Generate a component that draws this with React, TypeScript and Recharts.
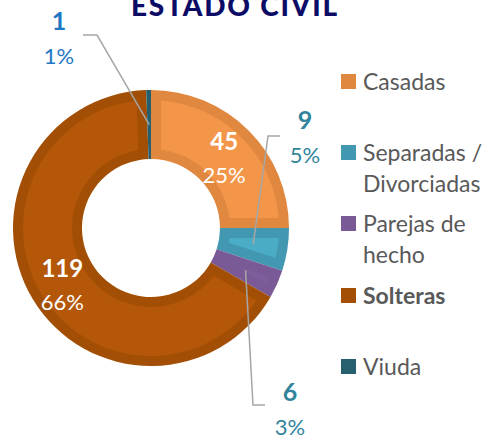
import React from 'react';
import { PieChart, Pie, Cell } from 'recharts';

// Datos del gráfico
const categorias = ['Casadas', 'Separadas / Divorciadas', 'Parejas de hecho', 'Solteras', 'Viuda'];
const valores = [45, 9, 6, 119, 1];

// Colores: borde (bisel) y cara de cada sector
const coloresBorde = ['#E0883F', '#4298B1', '#795A96', '#A24F05', '#26606F'];
const coloresCara = ['#F39649', '#4AACC5', '#7F5E9D', '#B45709', '#2A6877'];
const coloresEtiqueta = ['#FFFFFF', '#31849B', '#31849B', '#FFFFFF', '#1F77C4'];

// Posición de las etiquetas externas respecto al centro (dx, dy del texto, codo y fin de la línea guía)
const callouts: Record<number, { tx: number; ty: number; ex: number; ey: number; fx: number }> = {
  1: { tx: 154, ty: -109, ex: 117, ey: -92, fx: 129 },
  2: { tx: 139, ty: 163, ex: 102, ey: 177, fx: 114 },
  4: { tx: -92, ty: -208, ex: -54, ey: -193, fx: -68 },
};

const FONT = 'Lato, "Open Sans", sans-serif';
const BISEL = 10;

const data = categorias.map((name, i) => ({ name, value: valores[i] }));

const pt = (cx: number, cy: number, r: number, deg: number) => {
  const a = (deg * Math.PI) / 180;
  return [cx + r * Math.cos(a), cy - r * Math.sin(a)];
};

// Dibuja la "cara" interior del sector, dejando un borde de ancho constante
const renderBisel = (props: any) => {
  const { cx, cy, innerRadius, outerRadius, startAngle, endAngle, index } = props;
  const s = Math.max(startAngle, endAngle);
  const e = Math.min(startAngle, endAngle);
  const half = ((s - e) / 2) * (Math.PI / 180);
  const ro = outerRadius - BISEL;
  const ri = innerRadius + BISEL;
  if (half <= 0) return null;
  const apex = BISEL / Math.sin(Math.min(half, Math.PI / 2));
  if (apex >= ro - 2) return null;
  const dOut = (Math.asin(BISEL / ro) * 180) / Math.PI;
  const [ox1, oy1] = pt(cx, cy, ro, s - dOut);
  const [ox2, oy2] = pt(cx, cy, ro, e + dOut);
  const large = s - e - 2 * dOut > 180 ? 1 : 0;
  let d = `M${ox1},${oy1} A${ro},${ro} 0 ${large} 1 ${ox2},${oy2} `;
  if (apex >= ri) {
    const [ax, ay] = pt(cx, cy, apex, (s + e) / 2);
    d += `L${ax},${ay} Z`;
  } else {
    const dIn = (Math.asin(BISEL / ri) * 180) / Math.PI;
    const [ix2, iy2] = pt(cx, cy, ri, e + dIn);
    const [ix1, iy1] = pt(cx, cy, ri, s - dIn);
    const largeIn = s - e - 2 * dIn > 180 ? 1 : 0;
    d += `L${ix2},${iy2} A${ri},${ri} 0 ${largeIn} 0 ${ix1},${iy1} Z`;
  }
  return <path key={`b-${index}`} d={d} fill={coloresCara[index]} stroke="none" />;
};

const renderEtiqueta = (props: any) => {
  const { cx, cy, innerRadius, outerRadius, midAngle, percent, value, index } = props;
  const rMid = (innerRadius + outerRadius) / 2;
  const [mx, my] = pt(cx, cy, rMid, midAngle);
  const color = coloresEtiqueta[index];
  const pct = `${Math.round(percent * 100)}%`;
  const c = callouts[index];
  if (!c) {
    return (
      <g key={`l-${index}`} fontFamily={FONT}>
        <text x={mx} y={my - 14} fill={color} fontSize={24} fontWeight={700} textAnchor="middle" dominantBaseline="central">{value}</text>
        <text x={mx} y={my + 20} fill={color} fontSize={22} textAnchor="middle" dominantBaseline="central">{pct}</text>
      </g>
    );
  }
  return (
    <g key={`l-${index}`} fontFamily={FONT}>
      <polyline
        points={`${mx},${my} ${cx + c.ex},${cy + c.ey} ${cx + c.fx},${cy + c.ey}`}
        fill="none"
        stroke="#A6A6A6"
        strokeWidth={1.5}
      />
      <text x={cx + c.tx} y={cy + c.ty} fill={color} fontSize={25} fontWeight={700} textAnchor="middle" dominantBaseline="central">{value}</text>
      <text x={cx + c.tx} y={cy + c.ty + 35} fill={color} fontSize={22} textAnchor="middle" dominantBaseline="central">{pct}</text>
    </g>
  );
};

const App: React.FC = () => {
  return (
    <div style={{ position: 'absolute', left: 0, top: 0, width: 499, height: 440, background: '#fff', fontFamily: FONT }}>
      <svg width={499} height={40} style={{ position: 'absolute', left: 0, top: 0 }}>
        <text x={235} y={16} textAnchor="middle" fill="#0C0C66" fontFamily={FONT} fontWeight={900} fontSize={28} letterSpacing={1.8}>
          ESTADO CIVIL
        </text>
      </svg>

      <div style={{ position: 'absolute', left: 0, top: 0 }}>
        <PieChart width={499} height={440} margin={{ top: 0, right: 0, bottom: 0, left: 0 }}>
          <Pie
            data={data}
            dataKey="value"
            nameKey="name"
            cx={151}
            cy={228}
            innerRadius={69}
            outerRadius={138}
            startAngle={90}
            endAngle={-270}
            stroke="none"
            label={renderBisel}
            labelLine={false}
            isAnimationActive={false}
          >
            {data.map((_, i) => (
              <Cell key={i} fill={coloresBorde[i]} />
            ))}
          </Pie>
          <Pie
            data={data}
            dataKey="value"
            nameKey="name"
            cx={151}
            cy={228}
            innerRadius={69}
            outerRadius={138}
            startAngle={90}
            endAngle={-270}
            fill="none"
            stroke="none"
            label={renderEtiqueta}
            labelLine={false}
            isAnimationActive={false}
          />
        </PieChart>
      </div>

      {/* Leyenda */}
      <div style={{ position: 'absolute', left: 341, top: 66, width: 158 }}>
        {categorias.map((cat, i) => (
          <div key={cat} style={{ height: 71.2, display: 'flex', alignItems: 'flex-start' }}>
            <div style={{ width: 15, height: 15, marginTop: 8, background: coloresBorde[i], flexShrink: 0 }} />
            <div
              style={{
                marginLeft: 7,
                width: 132,
                fontSize: 23,
                lineHeight: '31px',
                color: '#595959',
                fontWeight: cat === 'Solteras' ? 700 : 400,
              }}
            >
              {cat}
            </div>
          </div>
        ))}
      </div>
    </div>
  );
};

export default App;
